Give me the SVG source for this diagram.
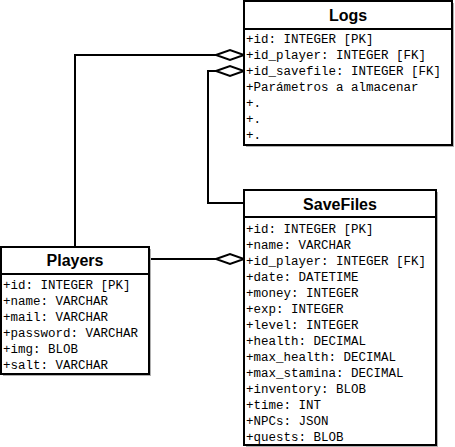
<svg xmlns="http://www.w3.org/2000/svg" width="455" height="447" viewBox="0 0 455 447">
  <style>
    .shadow { fill: #b0b0b0; }
    .box { fill: #ffffff; stroke: #000000; stroke-width: 2; }
    .sep { stroke: #000000; stroke-width: 2; }
    .title { font-family: "Liberation Sans", Arial, sans-serif; font-size: 16px; font-weight: bold; text-anchor: middle; fill: #000000; }
    .attr { font-family: "Liberation Mono", "Courier New", monospace; font-size: 12.5px; fill: #000000; }
    .link { fill: none; stroke: #000000; stroke-width: 2; }
  </style>
  <defs>
    <marker id="aggregation" markerUnits="userSpaceOnUse" markerWidth="30" markerHeight="14" refX="28" refY="6" orient="auto" overflow="visible">
      <path d="M0,6 L14,1 L28,6 L14,11 Z" fill="#ffffff" stroke="#000000" stroke-width="2"/>
    </marker>
  </defs>

  <rect width="455" height="447" fill="#ffffff"/>

  <g id="connectors">
    <path class="link" d="M75,247 V55 H244" marker-end="url(#aggregation)"/>
    <path class="link" d="M244,203 H208 V71 H244" marker-end="url(#aggregation)"/>
    <path class="link" d="M150,259 H244" marker-end="url(#aggregation)"/>
  </g>

  <g id="logs">
    <rect class="shadow" x="246" y="3" width="208" height="144"/>
    <rect class="box" x="244" y="1" width="208" height="144"/>
    <line class="sep" x1="244" y1="29" x2="452" y2="29"/>
    <text class="title" x="348" y="21">Logs</text>
    <text class="attr" x="246" y="43">+id: INTEGER [PK]</text>
    <text class="attr" x="246" y="59">+id_player: INTEGER [FK]</text>
    <text class="attr" x="246" y="75">+id_savefile: INTEGER [FK]</text>
    <text class="attr" x="246" y="91">+Parámetros a almacenar</text>
    <text class="attr" x="246" y="107">+.</text>
    <text class="attr" x="246" y="123">+.</text>
    <text class="attr" x="246" y="139">+.</text>
  </g>

  <g id="savefiles">
    <rect class="shadow" x="246" y="192" width="192" height="255"/>
    <rect class="box" x="244" y="190" width="192" height="255"/>
    <line class="sep" x1="244" y1="217" x2="436" y2="217"/>
    <text class="title" x="340" y="210">SaveFiles</text>
    <text class="attr" x="246" y="233">+id: INTEGER [PK]</text>
    <text class="attr" x="246" y="249">+name: VARCHAR</text>
    <text class="attr" x="246" y="265">+id_player: INTEGER [FK]</text>
    <text class="attr" x="246" y="281">+date: DATETIME</text>
    <text class="attr" x="246" y="297">+money: INTEGER</text>
    <text class="attr" x="246" y="313">+exp: INTEGER</text>
    <text class="attr" x="246" y="329">+level: INTEGER</text>
    <text class="attr" x="246" y="345">+health: DECIMAL</text>
    <text class="attr" x="246" y="361">+max_health: DECIMAL</text>
    <text class="attr" x="246" y="377">+max_stamina: DECIMAL</text>
    <text class="attr" x="246" y="393">+inventory: BLOB</text>
    <text class="attr" x="246" y="409">+time: INT</text>
    <text class="attr" x="246" y="425">+NPCs: JSON</text>
    <text class="attr" x="246" y="441">+quests: BLOB</text>
  </g>

  <g id="players">
    <rect class="shadow" x="3" y="249" width="148" height="127"/>
    <rect class="box" x="1" y="247" width="148" height="127"/>
    <line class="sep" x1="1" y1="274" x2="149" y2="274"/>
    <text class="title" x="75" y="266">Players</text>
    <text class="attr" x="3" y="289">+id: INTEGER [PK]</text>
    <text class="attr" x="3" y="305">+name: VARCHAR</text>
    <text class="attr" x="3" y="321">+mail: VARCHAR</text>
    <text class="attr" x="3" y="337">+password: VARCHAR</text>
    <text class="attr" x="3" y="353">+img: BLOB</text>
    <text class="attr" x="3" y="369">+salt: VARCHAR</text>
  </g>
</svg>
